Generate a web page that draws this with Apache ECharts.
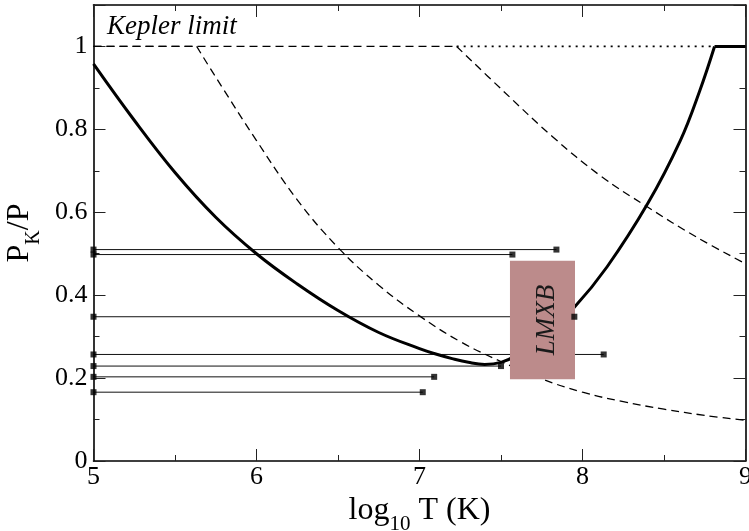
<!DOCTYPE html>
<html>
<head>
<meta charset="utf-8">
<script src="https://cdn.jsdelivr.net/npm/echarts@6/dist/echarts.min.js"></script>
<style>
  html, body { margin: 0; padding: 0; background: #ffffff; }
  #chart { width: 749px; height: 531px; }
</style>
</head>
<body>
<div id="chart"></div>
<script>
// Thick solid curve: P_K/P against log10 T, capped at the Kepler limit
const solidX = [5.00, 5.25, 5.50, 5.75, 6.00, 6.25, 6.50, 6.75, 7.00, 7.10, 7.20, 7.30, 7.40, 7.50, 7.60, 7.75, 7.95, 8.15, 8.40, 8.60, 8.72, 8.81];
const solidY = [0.958, 0.822, 0.696, 0.588, 0.500, 0.427, 0.363, 0.310, 0.271, 0.258, 0.247, 0.238, 0.233, 0.238, 0.256, 0.298, 0.371, 0.468, 0.621, 0.773, 0.894, 1.000];
const solidCapX = [8.81, 9.00];
const solidCapY = [1.000, 1.000];

// Lower dashed curve: flat part at the limit, then the falling branch
const dashAFlatX = [5.00, 5.633];
const dashAFlatY = [1.000, 1.000];
const dashAX = [5.633, 5.75, 6.00, 6.25, 6.50, 6.75, 7.00, 7.25, 7.50, 7.75, 8.00, 8.25, 8.50, 8.75, 9.00];
const dashAY = [1.000, 0.926, 0.773, 0.630, 0.515, 0.424, 0.350, 0.288, 0.240, 0.198, 0.166, 0.143, 0.125, 0.110, 0.098];

// Upper dashed curve: flat part at the limit, then the falling branch
const dashBFlatX = [5.00, 7.228];
const dashBFlatY = [1.000, 1.000];
const dashBX = [7.228, 7.51, 7.82, 8.11, 8.39, 8.70, 9.00];
const dashBY = [1.000, 0.894, 0.781, 0.688, 0.615, 0.540, 0.476];

// Dotted Kepler limit between the upper dashed curve and the solid cap
const keplerX = [7.228, 8.81];
const keplerY = [1.000, 1.000];

// Horizontal spin-period bars: level and right-hand end
const barStart = 5.0;
const barLevels = [0.510, 0.498, 0.348, 0.257, 0.229, 0.203, 0.166];
const barEnds = [7.84, 7.57, 7.95, 8.13, 7.50, 7.09, 7.02];

// LMXB region
const lmxbX = [7.555, 7.954];
const lmxbY = [0.197, 0.483];
const lmxbLabel = 'LMXB';

// Axis ranges and ticks
const xRange = [5, 9];
const yRange = [0, 1.1];
const xMajor = 1, xMinor = 0.5;
const yMajor = 0.2, yMinor = 0.1;

const serif = "'Liberation Serif', 'Times New Roman', serif";
const zip = (xs, ys) => xs.map((x, i) => [x, ys[i]]);

const chart = echarts.init(document.getElementById('chart'), null, { renderer: 'canvas' });

function xAxisDef(position, interval, tickLen, withLabels, withLine, name) {
  return {
    type: 'value', position, min: xRange[0], max: xRange[1], interval,
    axisLine: { show: withLine, onZero: false, lineStyle: { color: '#000', width: 1.6 } },
    axisTick: { show: true, inside: true, length: tickLen, lineStyle: { color: '#222', width: 1 } },
    axisLabel: withLabels ? {
      show: true, margin: 3, fontSize: 26, fontFamily: serif, color: '#000',
      formatter: v => String(v)
    } : { show: false },
    splitLine: { show: false },
    name: name || '',
    nameLocation: 'middle',
    nameGap: 20,
    nameTextStyle: {
      color: '#000',
      rich: {
        n: { fontSize: 32, fontFamily: serif, color: '#000' },
        s: { fontSize: 21, fontFamily: serif, color: '#000', padding: [28, 0, 0, 0] }
      }
    }
  };
}

function yAxisDef(position, interval, tickLen, withLabels, withLine, name) {
  return {
    type: 'value', position, min: yRange[0], max: yRange[1], interval,
    axisLine: { show: withLine, onZero: false, lineStyle: { color: '#000', width: 1.6 } },
    axisTick: { show: true, inside: true, length: tickLen, lineStyle: { color: '#222', width: 1 } },
    axisLabel: withLabels ? {
      show: true, margin: 6, fontSize: 26, fontFamily: serif, color: '#000',
      formatter: v => (v > 1.001 ? '' : String(Math.round(v * 10) / 10))
    } : { show: false },
    splitLine: { show: false },
    name: name || '',
    nameLocation: 'middle',
    nameRotate: 90,
    nameGap: 41,
    nameTextStyle: {
      color: '#000',
      rich: {
        n: { fontSize: 32, fontFamily: serif, color: '#000' },
        s: { fontSize: 20, fontFamily: serif, color: '#000', padding: [30, 0, 0, 0] }
      }
    }
  };
}

const series = [];
const plain = { symbol: 'none', animation: false, silent: true };

// horizontal bars (lines only)
barLevels.forEach((lvl, i) => {
  series.push(Object.assign({
    type: 'line', z: 2,
    data: [[barStart, lvl], [barEnds[i], lvl]],
    lineStyle: { color: '#111', width: 1 }
  }, plain));
});

series.push(Object.assign({
  type: 'line', z: 2, data: zip(solidX, solidY), smooth: 0.4,
  lineStyle: { color: '#000', width: 3 }
}, plain));
series.push(Object.assign({
  type: 'line', z: 2, data: zip(solidCapX, solidCapY),
  lineStyle: { color: '#000', width: 3 }
}, plain));

const dashStyle = { color: '#000', width: 1.3, type: [8, 5] };
series.push(Object.assign({ type: 'line', z: 2, data: zip(dashAFlatX, dashAFlatY), lineStyle: dashStyle }, plain));
series.push(Object.assign({ type: 'line', z: 2, data: zip(dashAX, dashAY), smooth: 0.4, lineStyle: dashStyle }, plain));
series.push(Object.assign({ type: 'line', z: 2, data: zip(dashBFlatX, dashBFlatY), lineStyle: dashStyle }, plain));
series.push(Object.assign({ type: 'line', z: 2, data: zip(dashBX, dashBY), smooth: 0.4, lineStyle: dashStyle }, plain));

series.push(Object.assign({
  type: 'line', z: 2, data: zip(keplerX, keplerY),
  lineStyle: { color: '#000', width: 1.8, type: [2, 5] }
}, plain));

// LMXB shaded region, drawn above the curves
series.push(Object.assign({
  type: 'line', z: 6, data: [],
  markArea: {
    silent: true,
    z: 6,
    itemStyle: { color: '#bc8b8b', borderWidth: 0 },
    label: {
      show: true, position: 'inside', rotate: 90, offset: [0, 4],
      fontSize: 27, fontStyle: 'italic', fontFamily: serif, color: '#1a1a1a'
    },
    data: [[
      { name: lmxbLabel, coord: [lmxbX[0], lmxbY[1]] },
      { coord: [lmxbX[1], lmxbY[0]] }
    ]]
  }
}, plain));

// square end markers of the bars
const markerPts = [];
barLevels.forEach((lvl, i) => {
  markerPts.push([barStart, lvl]);
  markerPts.push([barEnds[i], lvl]);
});
series.push({
  type: 'scatter', z: 8, data: markerPts, symbol: 'rect', symbolSize: 6,
  itemStyle: { color: '#000' }, animation: false, silent: true
});

chart.setOption({
  backgroundColor: '#ffffff',
  animation: false,
  grid: { left: 93.5, right: 3.5, top: 5, bottom: 70, containLabel: false, outerBoundsMode: 'none' },
  xAxis: [
    xAxisDef('bottom', xMajor, 12, true, true, '{n|log}{s|10}{n| T (K)}'),
    xAxisDef('bottom', xMinor, 6, false, false),
    xAxisDef('top', xMajor, 12, false, true),
    xAxisDef('top', xMinor, 6, false, false)
  ],
  yAxis: [
    yAxisDef('left', yMajor, 12, true, true, '{n|P}{s|K}{n|/P}'),
    yAxisDef('left', yMinor, 6, false, false),
    yAxisDef('right', yMajor, 12, false, true),
    yAxisDef('right', yMinor, 6, false, false)
  ],
  graphic: [{
    type: 'text', left: 107, top: 13, z: 10,
    style: {
      text: 'Kepler limit', fontSize: 27, fontStyle: 'italic', fontFamily: serif, fill: '#000'
    }
  }],
  series
});
</script>
</body>
</html>
